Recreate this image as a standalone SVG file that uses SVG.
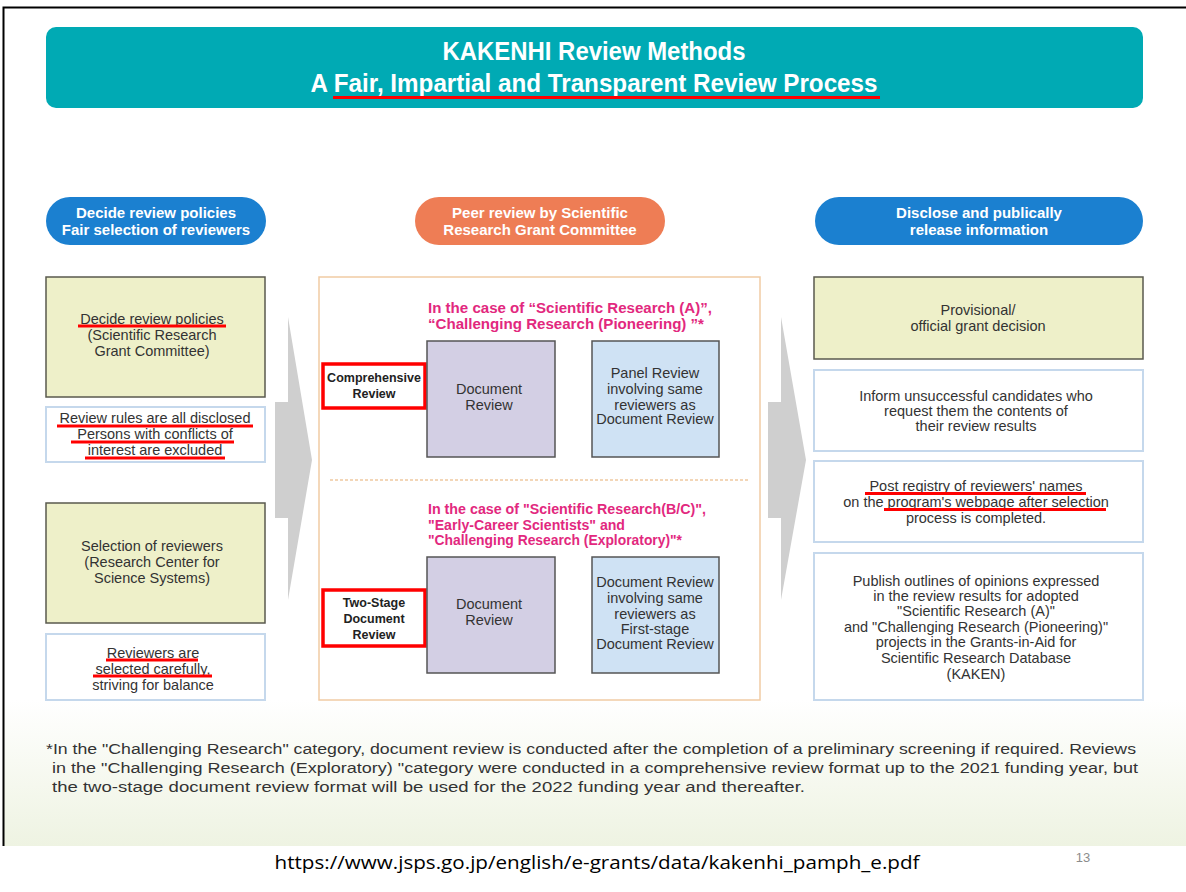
<svg xmlns="http://www.w3.org/2000/svg" width="1186" height="892" viewBox="0 0 1186 892">
  <defs>
    <linearGradient id="footBg" x1="0" y1="0" x2="0" y2="1">
      <stop offset="0" stop-color="#ffffff"/>
      <stop offset="1" stop-color="#eef3e2"/>
    </linearGradient>
    <marker id="grayHead" viewBox="0 0 10 10" refX="9" refY="5" markerWidth="3.2" markerHeight="3.2" orient="auto">
      <path d="M0,0 L10,5 L0,10 z" fill="#c8c8c8"/>
    </marker>
  </defs>
  <style>
    .lbl { font-family: "Liberation Sans", Arial, sans-serif; font-size: 14.5px; fill: #333; text-anchor: middle; }
    .pill { font-family: "Liberation Sans", Arial, sans-serif; font-size: 15px; font-weight: bold; fill: #fff; text-anchor: middle; }
    .pink { font-family: "Liberation Sans", Arial, sans-serif; font-size: 14px; font-weight: bold; fill: #e2287e; }
    .tag { font-family: "Liberation Sans", Arial, sans-serif; font-size: 12.5px; font-weight: bold; fill: #222; text-anchor: middle; }
    .title { font-family: "Liberation Sans", Arial, sans-serif; font-size: 25px; font-weight: bold; fill: #fff; text-anchor: middle; }
    .note { font-family: "Liberation Sans", Arial, sans-serif; font-size: 14px; fill: #333; }
    .yellow { fill: #eef0c9; stroke: #5a5a4e; stroke-width: 1.5; }
    .white { fill: #fff; stroke: #c5d8ec; stroke-width: 2; }
    .purple { fill: #d3cfe4; stroke: #555; stroke-width: 1.5; }
    .lblue { fill: #cfe2f4; stroke: #555; stroke-width: 1.5; }
    .redbox { fill: #fff; stroke: #ff0000; stroke-width: 3.5; }
    .uline { stroke: #ff0000; stroke-width: 3; }
    .big { fill: #cfcfcf; }
  </style>

  <!-- slide background and frame -->
  <rect x="0" y="0" width="1186" height="892" fill="#ffffff"/>
  <rect x="4" y="700" width="1182" height="146" fill="url(#footBg)"/>
  <path d="M3.5,846 L3.5,7.5 L1186,7.5" fill="none" stroke="#000" stroke-width="2"/>

  <!-- title banner -->
  <g id="title">
    <rect x="46" y="27" width="1097" height="81" rx="10" fill="#00aab4"/>
    <text class="title" x="594" y="60" textLength="303" lengthAdjust="spacingAndGlyphs">KAKENHI Review Methods</text>
    <text class="title" x="594" y="92" textLength="567" lengthAdjust="spacingAndGlyphs">A Fair, Impartial and Transparent Review Process</text>
    <line class="uline" x1="333" y1="97.5" x2="880" y2="97.5"/>
  </g>

  <!-- column headers -->
  <g id="hdr-left">
    <rect x="46" y="197" width="220" height="48" rx="24" fill="#1b80d0"/>
    <text class="pill" x="156" y="218">Decide review policies</text>
    <text class="pill" x="156" y="235">Fair selection of reviewers</text>
  </g>
  <g id="hdr-center">
    <rect x="415" y="197" width="250" height="48" rx="24" fill="#ee7d55"/>
    <text class="pill" x="540" y="218">Peer review by Scientific</text>
    <text class="pill" x="540" y="235">Research Grant Committee</text>
  </g>
  <g id="hdr-right">
    <rect x="815" y="197" width="328" height="48" rx="24" fill="#1b80d0"/>
    <text class="pill" x="979" y="218">Disclose and publically</text>
    <text class="pill" x="979" y="235">release information</text>
  </g>

  <!-- flow arrows between columns -->
  <g id="connectors">
    <polygon class="big" points="275,402 288,402 288,317 312,460 288,600 288,518 275,518"/>
    <polygon class="big" points="768,402 781,402 781,317 806,460 781,600 781,518 768,518"/>
    <line x1="558" y1="399" x2="586" y2="399" stroke="#c8c8c8" stroke-width="5" marker-end="url(#grayHead)"/>
    <line x1="558" y1="615" x2="586" y2="615" stroke="#c8c8c8" stroke-width="5" marker-end="url(#grayHead)"/>
  </g>

  <!-- left column -->
  <g id="policies">
    <rect class="yellow" x="46" y="277" width="219" height="120"/>
    <text class="lbl" x="152" y="324">Decide review policies</text>
    <text class="lbl" x="152" y="340">(Scientific Research</text>
    <text class="lbl" x="152" y="356">Grant Committee)</text>
    <line class="uline" x1="78" y1="326" x2="226" y2="326"/>
  </g>
  <g id="rules">
    <rect class="white" x="46" y="407" width="219" height="55"/>
    <text class="lbl" x="155" y="423">Review rules are all disclosed</text>
    <text class="lbl" x="155" y="439">Persons with conflicts of</text>
    <text class="lbl" x="155" y="455">interest are excluded</text>
    <line class="uline" x1="57" y1="426" x2="253" y2="426"/>
    <line class="uline" x1="71" y1="442" x2="234" y2="442"/>
    <line class="uline" x1="85" y1="458" x2="225" y2="458"/>
  </g>
  <g id="selection">
    <rect class="yellow" x="46" y="503" width="219" height="120"/>
    <text class="lbl" x="152" y="551">Selection of reviewers</text>
    <text class="lbl" x="152" y="567">(Research Center for</text>
    <text class="lbl" x="152" y="583">Science Systems)</text>
  </g>
  <g id="careful">
    <rect class="white" x="46" y="634" width="219" height="66"/>
    <text class="lbl" x="153" y="658">Reviewers are</text>
    <text class="lbl" x="153" y="674">selected carefully,</text>
    <text class="lbl" x="153" y="690">striving for balance</text>
    <line class="uline" x1="106" y1="660" x2="198" y2="660"/>
    <line class="uline" x1="93" y1="676" x2="212" y2="676"/>
  </g>

  <!-- center panel -->
  <g id="panel">
    <rect x="319" y="277" width="441" height="423" fill="#ffffff" stroke="#f1cba4" stroke-width="1.5"/>
    <line x1="330" y1="480" x2="750" y2="480" stroke="#efc9a0" stroke-width="1.5" stroke-dasharray="3,2"/>
  </g>
  <g id="case-a">
    <text class="pink" x="428" y="313" textLength="284" lengthAdjust="spacingAndGlyphs">In the case of “Scientific Research (A)”,</text>
    <text class="pink" x="428" y="329" textLength="276" lengthAdjust="spacingAndGlyphs">“Challenging Research  (Pioneering) ”*</text>
  </g>
  <g id="comprehensive">
    <rect class="redbox" x="323" y="364" width="102" height="44"/>
    <text class="tag" x="374" y="382">Comprehensive</text>
    <text class="tag" x="374" y="398">Review</text>
  </g>
  <g id="doc-review-1">
    <rect class="purple" x="427" y="341" width="128" height="116"/>
    <text class="lbl" x="489" y="394">Document</text>
    <text class="lbl" x="489" y="410">Review</text>
  </g>
  <g id="panel-review">
    <rect class="lblue" x="592" y="341" width="127" height="116"/>
    <text class="lbl" x="655" y="378">Panel Review</text>
    <text class="lbl" x="655" y="394">involving same</text>
    <text class="lbl" x="655" y="410">reviewers as</text>
    <text class="lbl" x="655" y="424">Document Review</text>
  </g>

  <g id="case-bc">
    <text class="pink" x="428" y="514" textLength="278" lengthAdjust="spacingAndGlyphs">In the case of "Scientific Research(B/C)",</text>
    <text class="pink" x="428" y="530" textLength="197" lengthAdjust="spacingAndGlyphs">"Early-Career Scientists" and</text>
    <text class="pink" x="428" y="545" textLength="254" lengthAdjust="spacingAndGlyphs">"Challenging Research (Exploratory)"*</text>
  </g>
  <g id="two-stage">
    <rect class="redbox" x="323" y="590" width="102" height="56"/>
    <text class="tag" x="374" y="607">Two-Stage</text>
    <text class="tag" x="374" y="623">Document</text>
    <text class="tag" x="374" y="639">Review</text>
  </g>
  <g id="doc-review-2">
    <rect class="purple" x="427" y="557" width="128" height="116"/>
    <text class="lbl" x="489" y="609">Document</text>
    <text class="lbl" x="489" y="625">Review</text>
  </g>
  <g id="second-stage">
    <rect class="lblue" x="592" y="557" width="127" height="116"/>
    <text class="lbl" x="655" y="587">Document Review</text>
    <text class="lbl" x="655" y="603">involving same</text>
    <text class="lbl" x="655" y="619">reviewers as</text>
    <text class="lbl" x="655" y="634">First-stage</text>
    <text class="lbl" x="655" y="649">Document Review</text>
  </g>

  <!-- right column -->
  <g id="decision">
    <rect class="yellow" x="814" y="277" width="329" height="82"/>
    <text class="lbl" x="978" y="315">Provisional/</text>
    <text class="lbl" x="978" y="331">official grant decision</text>
  </g>
  <g id="inform">
    <rect class="white" x="814" y="370" width="329" height="81"/>
    <text class="lbl" x="976" y="401">Inform unsuccessful candidates who</text>
    <text class="lbl" x="976" y="416">request them the contents of</text>
    <text class="lbl" x="976" y="431">their review results</text>
  </g>
  <g id="registry">
    <rect class="white" x="814" y="461" width="329" height="81"/>
    <text class="lbl" x="976" y="491">Post registry of reviewers' names</text>
    <text class="lbl" x="976" y="507">on the program's webpage after selection</text>
    <text class="lbl" x="976" y="523">process is completed.</text>
    <line class="uline" x1="865" y1="493.5" x2="1086" y2="493.5"/>
    <line class="uline" x1="884" y1="509.5" x2="1106" y2="509.5"/>
  </g>
  <g id="publish">
    <rect class="white" x="814" y="553" width="329" height="147"/>
    <text class="lbl" x="976" y="586">Publish outlines of opinions expressed</text>
    <text class="lbl" x="976" y="601">in the review results for adopted</text>
    <text class="lbl" x="976" y="616">"Scientific Research (A)"</text>
    <text class="lbl" x="976" y="632">and "Challenging Research (Pioneering)"</text>
    <text class="lbl" x="976" y="647">projects in the Grants-in-Aid for</text>
    <text class="lbl" x="976" y="663">Scientific Research Database</text>
    <text class="lbl" x="976" y="679">(KAKEN)</text>
  </g>

  <!-- footnote -->
  <g id="footnote">
    <text class="note" x="46" y="754" textLength="1090" lengthAdjust="spacingAndGlyphs">*In the "Challenging Research" category, document review is conducted after the completion of a preliminary screening if required. Reviews</text>
    <text class="note" x="52" y="773" textLength="1086" lengthAdjust="spacingAndGlyphs">in the "Challenging Research (Exploratory) "category were conducted in a comprehensive review format up to the 2021 funding year, but</text>
    <text class="note" x="52" y="792" textLength="753" lengthAdjust="spacingAndGlyphs">the two-stage document review format will be used for the 2022 funding year and thereafter.</text>
  </g>

  <!-- source and page number -->
  <g id="source">
    <text x="597" y="869" font-family="'Open Sans', 'Liberation Sans', sans-serif" font-size="18" fill="#000" text-anchor="middle" textLength="645" lengthAdjust="spacingAndGlyphs">https://www.jsps.go.jp/english/e-grants/data/kakenhi_pamph_e.pdf</text>
    <text x="1083" y="862" font-family="'Liberation Sans', sans-serif" font-size="13" fill="#8c8c8c" text-anchor="middle">13</text>
  </g>
</svg>
